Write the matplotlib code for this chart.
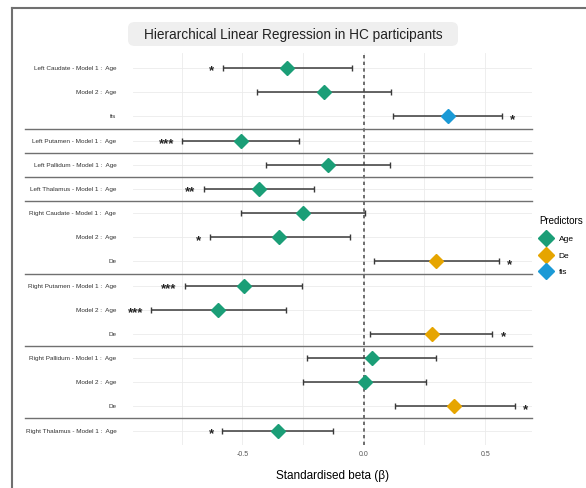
import matplotlib.pyplot as plt
import numpy as np
from matplotlib.lines import Line2D
from matplotlib.patches import FancyBboxPatch

plt.rcParams['font.family'] = ['Liberation Sans', 'DejaVu Sans']

# Standardised betas with 95% CI, one row per model term
row_labels = [
    "Left Caudate - Model 1 :  Age", "Model 2 :  Age", "fis",
    "Left Putamen - Model 1 :  Age",
    "Left Pallidum - Model 1 :  Age",
    "Left Thalamus - Model 1 :  Age",
    "Right Caudate - Model 1 :  Age", "Model 2 :  Age", "De",
    "Right Putamen - Model 1 :  Age", "Model 2 :  Age", "De",
    "Right Pallidum - Model 1 :  Age", "Model 2 :  Age", "De",
    "Right Thalamus - Model 1 :  Age",
]
predictor = ["Age", "Age", "fis", "Age", "Age", "Age", "Age", "Age", "De",
             "Age", "Age", "De", "Age", "Age", "De", "Age"]
beta = [-0.315, -0.165, 0.345, -0.507, -0.147, -0.431, -0.250, -0.348, 0.298,
        -0.494, -0.599, 0.279, 0.034, 0.004, 0.372, -0.354]
ci_low = [-0.581, -0.441, 0.121, -0.747, -0.404, -0.658, -0.507, -0.635, 0.042,
          -0.736, -0.875, 0.027, -0.235, -0.249, 0.128, -0.583]
ci_high = [-0.048, 0.111, 0.568, -0.267, 0.108, -0.206, 0.007, -0.058, 0.556,
           -0.256, -0.321, 0.530, 0.299, 0.255, 0.621, -0.125]
stars = ["*", "", "*", "***", "", "**", "", "*", "*",
         "***", "***", "*", "", "", "*", "*"]
group_breaks = [2.5, 3.5, 4.5, 5.5, 8.5, 11.5, 14.5]

colors = {"Age": "#1B9E77", "De": "#E6A500", "fis": "#1B9AD6"}

fig = plt.figure(figsize=(5.86, 4.88), dpi=100)
ax = fig.add_axes([0.227, 0.088, 0.681, 0.803])

y = np.arange(len(beta))

# grid
for v in [-0.75, -0.5, -0.25, 0, 0.25, 0.5]:
    ax.axvline(v, color="#ebebeb", lw=0.6, zorder=0)
for yy in y:
    ax.axhline(yy, color="#ebebeb", lw=0.6, zorder=0)

ax.axvline(0, color="#555555", lw=1.2, ls=(0, (2, 2)), zorder=1)

for i in y:
    ax.errorbar(beta[i], i, xerr=[[beta[i] - ci_low[i]], [ci_high[i] - beta[i]]],
                fmt="none", ecolor="#3a3a3a", elinewidth=1.1, capsize=2.4,
                capthick=1.0, zorder=2)
    ax.plot(beta[i], i, marker="D", ms=7.2, color=colors[predictor[i]],
            mec=colors[predictor[i]], zorder=3)
    if stars[i]:
        if beta[i] < 0:
            ax.annotate(stars[i], (ci_low[i], i), xytext=(-6, -2.5),
                        textcoords="offset points", ha="right", va="center",
                        fontsize=9.5, fontweight="bold", color="#222222")
        else:
            ax.annotate(stars[i], (ci_high[i], i), xytext=(6, -2.5),
                        textcoords="offset points", ha="left", va="center",
                        fontsize=9.5, fontweight="bold", color="#222222")

# separators between brain regions, running into the label area
for b in group_breaks:
    ax.plot([-0.27, 1.0], [b, b], transform=ax.get_yaxis_transform(),
            color="#707070", lw=1.0, clip_on=False, zorder=4)

ax.set_xlim(-0.95, 0.693)
ax.set_ylim(15.6, -0.62)
ax.set_yticks(y)
ax.set_yticklabels(row_labels, fontsize=4.6, color="#333333")
ax.set_xticks([-0.5, 0, 0.5])
ax.set_xticklabels(["-0.5", "0.0", "0.5"], fontsize=5, color="#555555")
ax.tick_params(axis="y", length=0, pad=12)
ax.tick_params(axis="x", length=0, pad=4)
for s in ax.spines.values():
    s.set_visible(False)

ax.set_xlabel("Standardised beta (β)", fontsize=8.5, labelpad=9)

# title in a rounded grey box
fig.patches.append(FancyBboxPatch((128 / 586, 1 - 46 / 488), 330 / 586, 24 / 488,
                                  boxstyle="round,pad=0,rounding_size=0.012",
                                  transform=fig.transFigure, fc="#efefef",
                                  ec="none", zorder=0))
fig.text(293 / 586, 1 - 34.5 / 488, "Hierarchical Linear Regression in HC participants",
         ha="center", va="center", fontsize=9.8, color="#222222")

handles = [Line2D([], [], marker="D", ls="none", ms=8, color=colors[k], label=k)
           for k in ["Age", "De", "fis"]]
leg = fig.legend(handles=handles, title="Predictors", loc="upper left",
                 bbox_to_anchor=(536 / 586, 1 - 213 / 488), frameon=False,
                 fontsize=6, title_fontsize=7, handletextpad=0.7,
                 labelspacing=1.05, handlelength=1.6, borderaxespad=0)
leg._legend_box.align = "left"

# outer frame
fig.add_artist(Line2D([12 / 586, 12 / 586], [0, 1 - 8 / 488], color="#707070",
                      lw=1.5, transform=fig.transFigure))
fig.add_artist(Line2D([12 / 586, 1], [1 - 8 / 488, 1 - 8 / 488], color="#707070",
                      lw=1.5, transform=fig.transFigure))

fig.savefig("out.png", dpi=100)
